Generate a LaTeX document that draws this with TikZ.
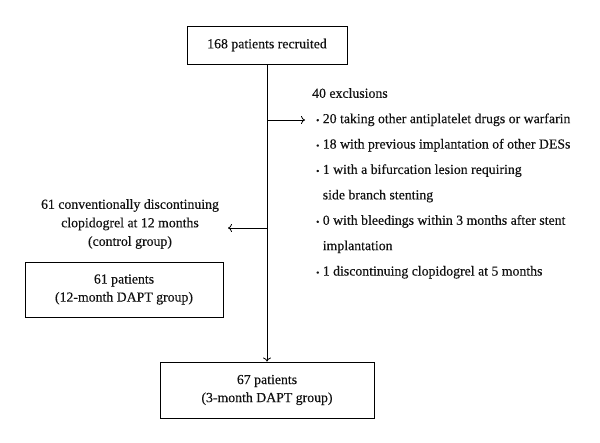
\documentclass[tikz,border=0pt]{standalone}
\usepackage{fontspec}
\setmainfont{Liberation Serif}[FakeBold=0.3]
\usetikzlibrary{arrows.meta,positioning}
\definecolor{flowline}{HTML}{000000}
\definecolor{flowtext}{HTML}{111111}

\begin{document}
\begin{tikzpicture}[x=1pt,y=-1pt,
    flowbox/.style={draw=flowline, line width=0.9pt, align=center, inner sep=0pt,
        text=flowtext, font=\fontsize{13.8}{18}\selectfont},
    flowarrow/.style={-{To[length=4pt,width=8pt]}, line width=0.8pt, draw=flowline}]
    \useasboundingbox (0,0) rectangle (600,443);

    % Boxes
    \node[flowbox, minimum width=160pt, minimum height=38pt] (recruit) at (267,45) {168 patients recruited};
    \node[flowbox, minimum width=198pt, minimum height=55pt] (dapt12) at (124,289.5) {61 patients\\(12-month DAPT group)};
    \node[flowbox, minimum width=214pt, minimum height=56pt] (dapt3) at (267,390) {67 patients\\(3-month DAPT group)};

    % Side texts
    \node[align=center, inner sep=0pt, text=flowtext, font=\fontsize{13.8}{18.5}\selectfont] (ctrl) at (130,224)
        {61 conventionally discontinuing\\clopidogrel at 12 months\\(control group)};
    \node[anchor=north west, align=left, inner sep=0pt, text=flowtext, font=\fontsize{13.8}{25.4}\selectfont] (excl) at (312,88)
        {40 exclusions\\
        \hspace{4pt}{\small\textbullet} 20 taking other antiplatelet drugs or warfarin\\
        \hspace{4pt}{\small\textbullet} 18 with previous implantation of other DESs\\
        \hspace{4pt}{\small\textbullet} 1 with a bifurcation lesion requiring\\
        \hspace{4pt}\phantom{{\small\textbullet} }side branch stenting\\
        \hspace{4pt}{\small\textbullet} 0 with bleedings within 3 months after stent\\
        \hspace{4pt}\phantom{{\small\textbullet} }implantation\\
        \hspace{4pt}{\small\textbullet} 1 discontinuing clopidogrel at 5 months};

    % Branch points
    \coordinate (exclsplit) at (267,120);
    \coordinate (exclend) at (305,120);
    \coordinate (ctrlsplit) at (267,228);
    \coordinate (ctrlend) at (228,228);

    % Arrows
    \draw[flowarrow] (recruit) -- (dapt3);
    \draw[flowarrow] (exclsplit) -- (exclend);
    \draw[flowarrow] (ctrlsplit) -- (ctrlend);
\end{tikzpicture}
\end{document}
